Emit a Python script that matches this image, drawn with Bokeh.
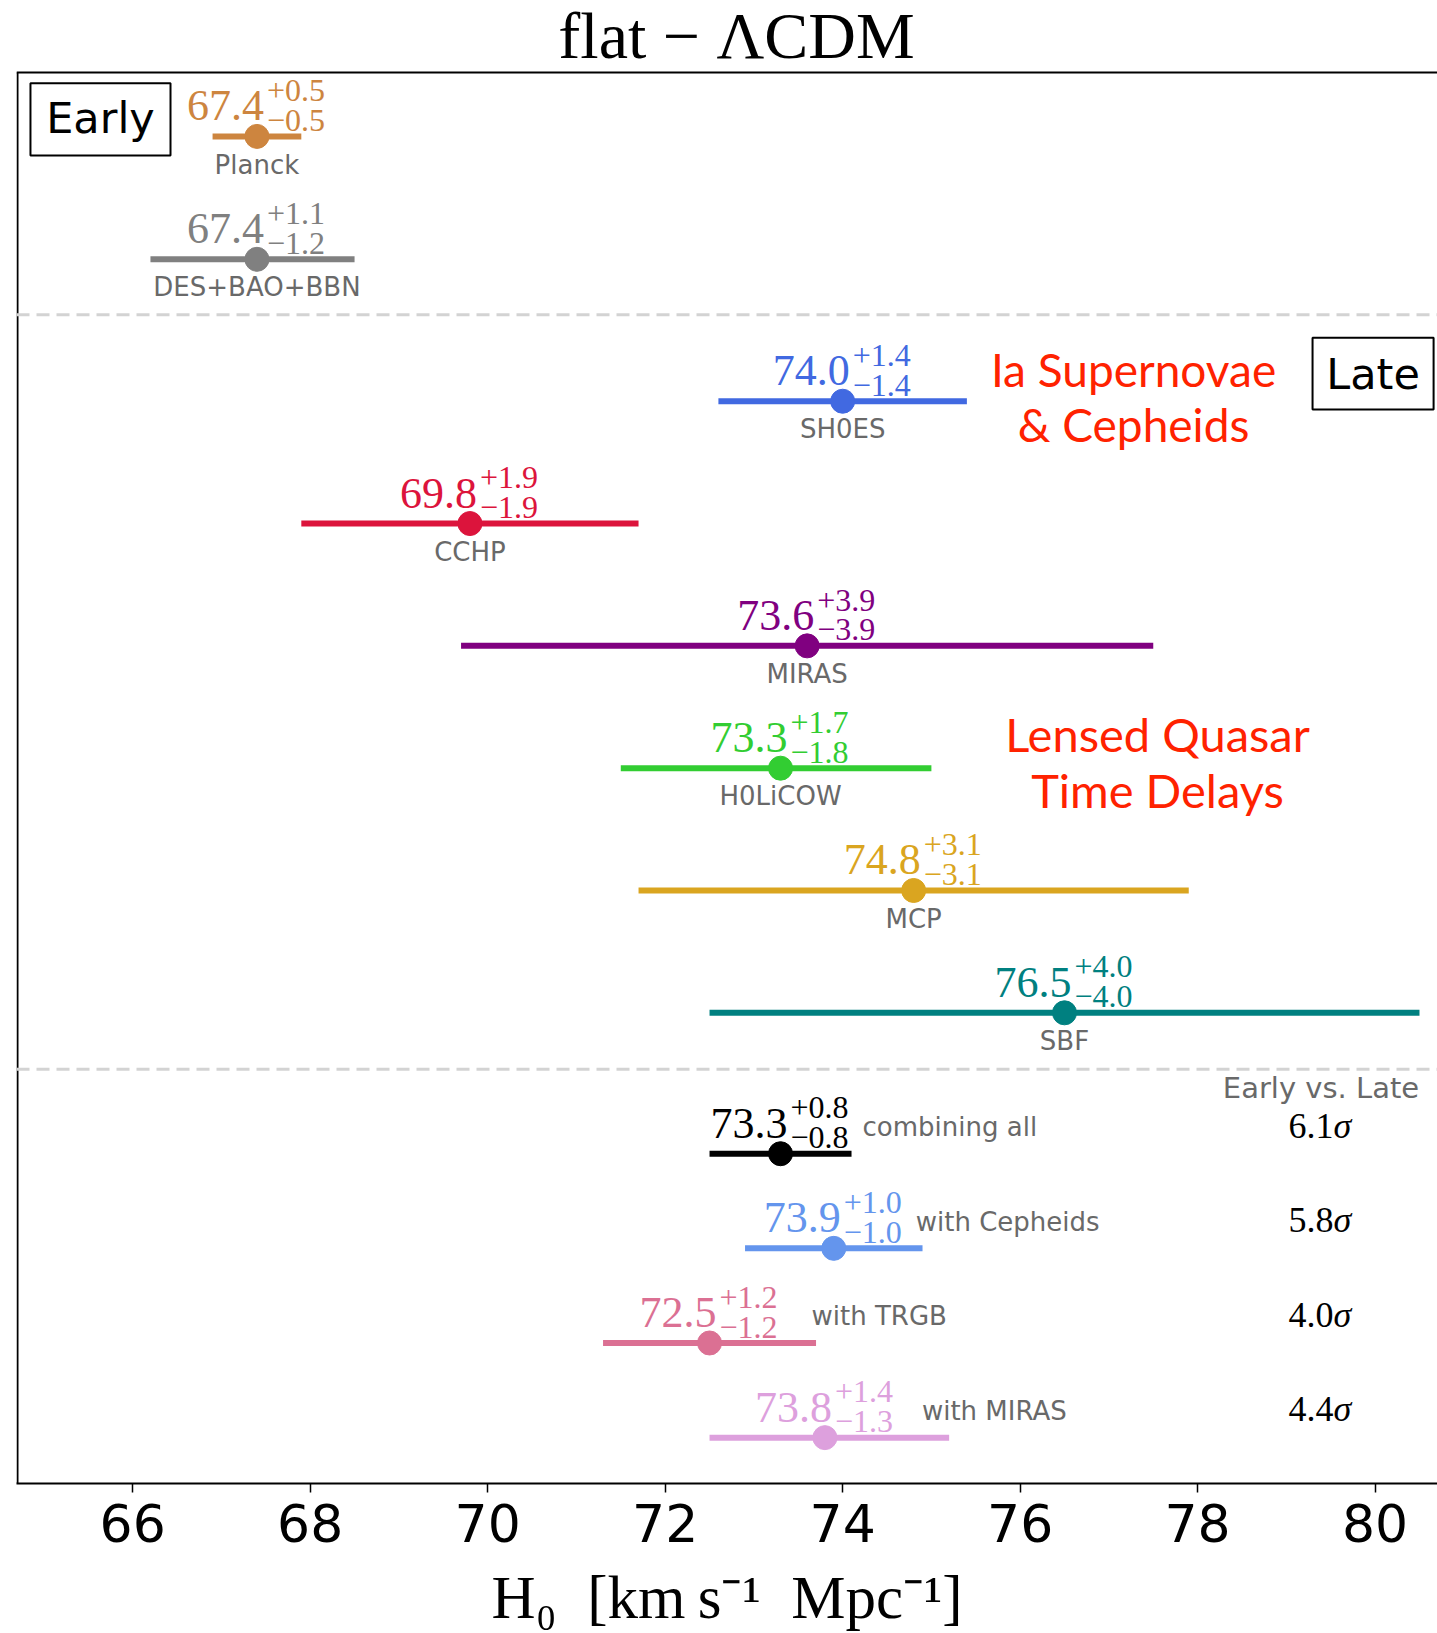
from bokeh.plotting import figure
from bokeh.models import Range1d, FixedTicker, ColumnDataSource, Span
from bokeh.core.properties import value
from bokeh.embed import file_html
from bokeh.resources import INLINE

# ---- individual H0 measurements (km/s/Mpc) ----
names = ["Planck", "DES+BAO+BBN", "SH0ES", "CCHP", "MIRAS", "H0LiCOW", "MCP", "SBF"]
h0 = [67.4, 67.4, 74.0, 69.8, 73.6, 73.3, 74.8, 76.5]
err_plus = [0.5, 1.1, 1.4, 1.9, 3.9, 1.7, 3.1, 4.0]
err_minus = [0.5, 1.2, 1.4, 1.9, 3.9, 1.8, 3.1, 4.0]
epoch = ["early", "early", "late", "late", "late", "late", "late", "late"]
colors = ["peru", "gray", "royalblue", "crimson", "purple", "limegreen", "goldenrod", "teal"]

# ---- combined late-universe values and tension with early universe ----
comb_names = ["combining all", "with Cepheids", "with TRGB", "with MIRAS"]
comb_h0 = [73.3, 73.9, 72.5, 73.8]
comb_plus = [0.8, 1.0, 1.2, 1.4]
comb_minus = [0.8, 1.0, 1.2, 1.3]
comb_colors = ["black", "cornflowerblue", "palevioletred", "plum"]
tension = ["6.1", "5.8", "4.0", "4.4"]

x_ticks = [66, 68, 70, 72, 74, 76, 78, 80]

# ---- vertical layout (y measured downward in pixels from the top spine) ----
PANEL_H = 1412      # height of the boxed panel
HEAD_H = 72         # room above the panel for the title
row_y = []
early_i = late_i = 0
for ep in epoch:
    if ep == "early":
        row_y.append(64 + 123 * early_i)
        early_i += 1
    else:
        row_y.append(329 + 122.4 * late_i)
        late_i += 1
comb_y = [1082 + 94.7 * i for i in range(len(comb_h0))]
sep_y = [242.5, 997.5]

X0, X1 = 64.6906, 80.703
PX_PER_UNIT = 88.74

SERIF = value("Liberation Serif")
SANS = value("DejaVu Sans")
LABEL_GRAY = "#696969"

MAIN_FS, SCRIPT_FS, NAME_FS, SIG_FS = 44, 32, 26, 36


def baseline(y, fs, k=0.34):
    """Place a text so that its alphabetic baseline lands at y."""
    return y - k * fs


def fmt(v):
    return f"{v:.1f}"


def value_source(xs, ys, plus, minus, cols):
    return ColumnDataSource(dict(
        x=xs, y=ys, lo=[v - m for v, m in zip(xs, minus)], hi=[v + p for v, p in zip(xs, plus)],
        main=[fmt(v) for v in xs],
        sup=["+" + fmt(p) for p in plus],
        sub=["\u2212" + fmt(m) for m in minus],
        y_main=[baseline(y - 15.6, MAIN_FS) for y in ys],
        y_sup=[baseline(y - 35, SCRIPT_FS) for y in ys],
        y_sub=[baseline(y - 5, SCRIPT_FS) for y in ys],
        color=cols,
    ))


p = figure(width=1437, height=1633, output_backend="svg", toolbar_location=None,
           x_range=Range1d(X0, X1), y_range=Range1d(PANEL_H, -HEAD_H),
           min_border_left=16, min_border_right=0, min_border_top=0, min_border_bottom=149,
           background_fill_color="white", border_fill_color="white")
p.outline_line_color = None
p.xgrid.visible = False
p.ygrid.visible = False
p.yaxis.visible = False

# bottom axis
xa = p.xaxis[0]
xa.ticker = FixedTicker(ticks=x_ticks)
xa.minor_tick_line_color = None
xa.major_tick_in = 0
xa.major_tick_out = 9
xa.major_tick_line_width = 1.5
xa.axis_line_width = 2
xa.axis_line_color = "black"
xa.major_label_text_font = "DejaVu Sans"
xa.major_label_text_font_size = "52px"
xa.major_label_text_color = "black"
xa.major_label_standoff = 11
xa.axis_label = "H\u2080\u2002[km\u2009s\u207b\u00b9\u2002Mpc\u207b\u00b9]"
xa.axis_label_text_font = "Liberation Serif"
xa.axis_label_text_font_style = "normal"
xa.axis_label_text_font_size = "61px"
xa.axis_label_text_color = "black"
xa.axis_label_standoff = 19

# left and top spines of the panel
edge = 1.0 / PX_PER_UNIT
p.segment(x0=[X0 + edge, X0], y0=[0, 0], x1=[X0 + edge, X1], y1=[PANEL_H, 0],
          line_color="black", line_width=2)

# title
p.text(x=[72.804], y=[baseline(-15, 66)], text=["flat \u2212 \u039bCDM"], text_color="black",
       text_font=SERIF, text_font_size="66px", text_align="center", text_baseline="alphabetic")

# separators between the sections
for yy in sep_y:
    p.add_layout(Span(location=yy, dimension="width", line_color="#d3d3d3",
                      line_width=3, line_dash="13 7"))


def draw_values(src):
    p.segment(x0="lo", y0="y", x1="hi", y1="y", source=src, line_color="color", line_width=6,
              line_cap="butt")
    p.scatter(x="x", y="y", source=src, size=24, fill_color="color", line_color="color",
              line_width=1)
    p.text(x="x", y="y_main", text="main", source=src, text_color="color", text_font=SERIF,
           text_font_size=f"{MAIN_FS}px", text_align="right", text_baseline="alphabetic",
           x_offset=7)
    for col in ("sup", "sub"):
        p.text(x="x", y=f"y_{col}", text=col, source=src, text_color="color", text_font=SERIF,
               text_font_size=f"{SCRIPT_FS}px", text_align="left", text_baseline="alphabetic",
               x_offset=10)


# ---- individual measurements ----
src = value_source(h0, row_y, err_plus, err_minus, colors)
src.data["name"] = names
src.data["y_name"] = [baseline(y + 37, NAME_FS) for y in row_y]
draw_values(src)
p.text(x="x", y="y_name", text="name", source=src, text_color=LABEL_GRAY, text_font=SANS,
       text_font_size=f"{NAME_FS}px", text_align="center", text_baseline="alphabetic")

# ---- combined values ----
csrc = value_source(comb_h0, comb_y, comb_plus, comb_minus, comb_colors)
csrc.data["name"] = comb_names
csrc.data["y_name"] = [baseline(y - 18, NAME_FS) for y in comb_y]
csrc.data["name_dx"] = [82, 82, 102, 97]
csrc.data["sig"] = tension
csrc.data["sigma"] = ["\u03c3"] * len(tension)
csrc.data["y_sig"] = [baseline(y - 16, SIG_FS) for y in comb_y]
draw_values(csrc)
p.text(x="x", y="y_name", text="name", source=csrc, text_color=LABEL_GRAY, text_font=SANS,
       text_font_size=f"{NAME_FS}px", text_align="left", text_baseline="alphabetic",
       x_offset="name_dx")

# tension column
sig_x = 79.53
csrc.data["sig_x"] = [sig_x] * len(tension)
p.text(x="sig_x", y="y_sig", text="sig", source=csrc, text_color="black", text_font=SERIF,
       text_font_size=f"{SIG_FS}px", text_align="right", text_baseline="alphabetic")
p.text(x="sig_x", y="y_sig", text="sigma", source=csrc, text_color="black", text_font=SERIF,
       text_font_style="italic", text_font_size=f"{SIG_FS}px", text_align="left",
       text_baseline="alphabetic")
p.text(x=[79.39], y=[baseline(1026, 29)], text=["Early vs. Late"], text_color=LABEL_GRAY,
       text_font=SANS, text_font_size="29px", text_align="center", text_baseline="alphabetic")

# ---- section boxes ----
p.rect(x=[65.637, 79.977], y=[46.85, 301.3], width=[1.578, 1.364], height=[72.3, 71.8],
       fill_color="white", line_color="black", line_width=2)
p.text(x=[65.637, 79.977], y=[baseline(59.7, 43), baseline(316, 43)], text=["Early", "Late"],
       text_color="black", text_font=SANS, text_font_size="43px", text_align="center",
       text_baseline="alphabetic")

# ---- method annotations ----
RED = "#ff2200"
p.text(x=[77.278, 77.278], y=[297, 352], text=["Ia Supernovae", "& Cepheids"], text_color=RED,
       text_font=value("Lato"), text_font_size="46px", text_align="center",
       text_baseline="alphabetic")
p.text(x=[77.548, 77.548], y=[662, 718], text=["Lensed Quasar", "Time Delays"],
       text_color=RED, text_font=value("Lato"), text_font_size="47px", text_align="center",
       text_baseline="alphabetic")

open("out.html", "w").write(file_html(p, INLINE))
